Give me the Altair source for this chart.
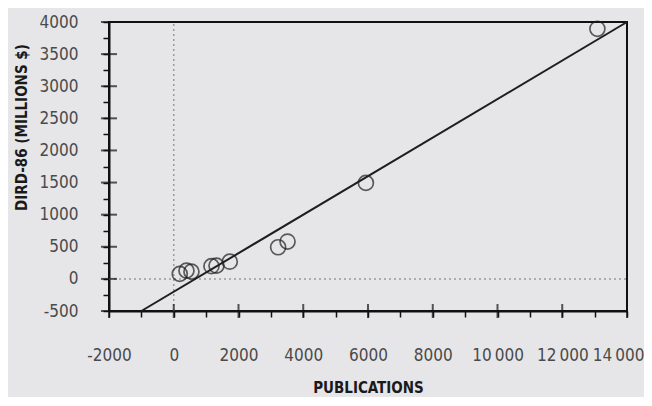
import altair as alt
import pandas as pd

# Data
publications = [185, 393, 547, 1165, 1320, 1731, 3224, 3515, 5935, 13086]
dird86 = [78, 129, 113, 198, 207, 268, 493, 581, 1495, 3894]

# Fitted line end points
line_x = [-1000, 14000]
line_y = [-500, 4000]

x_major = [-2000, 0, 2000, 4000, 6000, 8000, 10000, 12000, 14000]
x_minor = [-1000, 1000, 3000, 5000, 7000, 9000, 11000, 13000]
y_major = [-500, 0, 500, 1000, 1500, 2000, 2500, 3000, 3500, 4000]
y_minor = [-250, 250, 750, 1250, 1750, 2250, 2750, 3250, 3750]

FONT = "DejaVu Sans Condensed"
XDOM = [-2000, 14000]
YDOM = [-500, 4000]

xs = alt.Scale(domain=XDOM, nice=False, zero=False)
ys = alt.Scale(domain=YDOM, nice=False, zero=False)

pts = pd.DataFrame({"x": publications, "y": dird86})
fit = pd.DataFrame({"x": line_x, "y": line_y})

x_axis = alt.Axis(
    values=sorted(x_major + x_minor),
    labelExpr="datum.value % 2000 != 0 ? '' : (datum.value >= 10000 ? floor(datum.value/1000) + '\u2009000' : '' + datum.value)",
    title="PUBLICATIONS",
    titleX=259, titleY=76, titleAnchor="middle", titleBaseline="middle",
    grid=False, tickSize=6, labelPadding=30, labelBaseline="top",
    labelOverlap=False, labelFlush=False,
    labelOffset={"condition": {"test": "datum.value == 14000", "value": -9}, "value": 0},
)
y_axis = alt.Axis(
    values=sorted(y_major + y_minor),
    labelExpr="datum.value % 500 != 0 ? '' : '' + datum.value",
    title="DIRD-86 (MILLIONS $)",
    titleX=-88, titleY=105, titleAngle=-90, titleAlign="center", titleBaseline="middle",
    grid=False, tickSize=6, labelPadding=25,
    labelOverlap=False, labelFlush=False,
)

X = alt.X("x:Q", scale=xs, axis=x_axis)
Y = alt.Y("y:Q", scale=ys, axis=y_axis)

circles = alt.Chart(pts).mark_point(
    shape="circle", filled=False, size=225, color="#1e1e1e", strokeWidth=1.7
).encode(x=X, y=Y)

reg = alt.Chart(fit).mark_line(color="#1e1e1e", strokeWidth=2).encode(x=X, y=Y)

vref = alt.Chart(pd.DataFrame({"x": [0], "y": [YDOM[0]], "y2": [YDOM[1]]})).mark_rule(
    color="#9a9a9a", strokeDash=[2, 3], strokeWidth=1.5
).encode(x=X, y=Y, y2="y2:Q")

href = alt.Chart(pd.DataFrame({"y": [0], "x": [XDOM[0]], "x2": [XDOM[1]]})).mark_rule(
    color="#9a9a9a", strokeDash=[2, 3], strokeWidth=1.5
).encode(y=Y, x=X, x2="x2:Q")

xticks = alt.Chart(pd.DataFrame({"x": x_major, "y": [YDOM[0]] * len(x_major)})).mark_tick(
    orient="vertical", size=14, thickness=2, color="#111111"
).encode(x=X, y=Y)

yticks = alt.Chart(pd.DataFrame({"y": y_major, "x": [XDOM[0]] * len(y_major)})).mark_tick(
    orient="horizontal", size=16, thickness=2, color="#111111"
).encode(x=X, y=Y)

chart = (
    alt.layer(vref, href, reg, circles, xticks, yticks)
    .properties(
        width=518, height=289,
        autosize=alt.AutoSizeParams(type="none"),
        padding={"left": 101, "top": 14, "right": 17, "bottom": 86},
        background="#e6e6e8",
    )
    .configure_view(stroke="#111111", strokeWidth=2)
    .configure_axis(
        domainColor="#111111", domainWidth=2, tickColor="#111111", tickWidth=1.5,
        labelFont=FONT, labelFontSize=17, labelColor="#4a4a4a",
        labelOverlap=False,
        titleFont=FONT, titleFontSize=15, titleFontWeight="bold", titleColor="#1a1a1a",
    )
)

chart.save("out.html", embed_options={"renderer": "svg", "actions": False})
